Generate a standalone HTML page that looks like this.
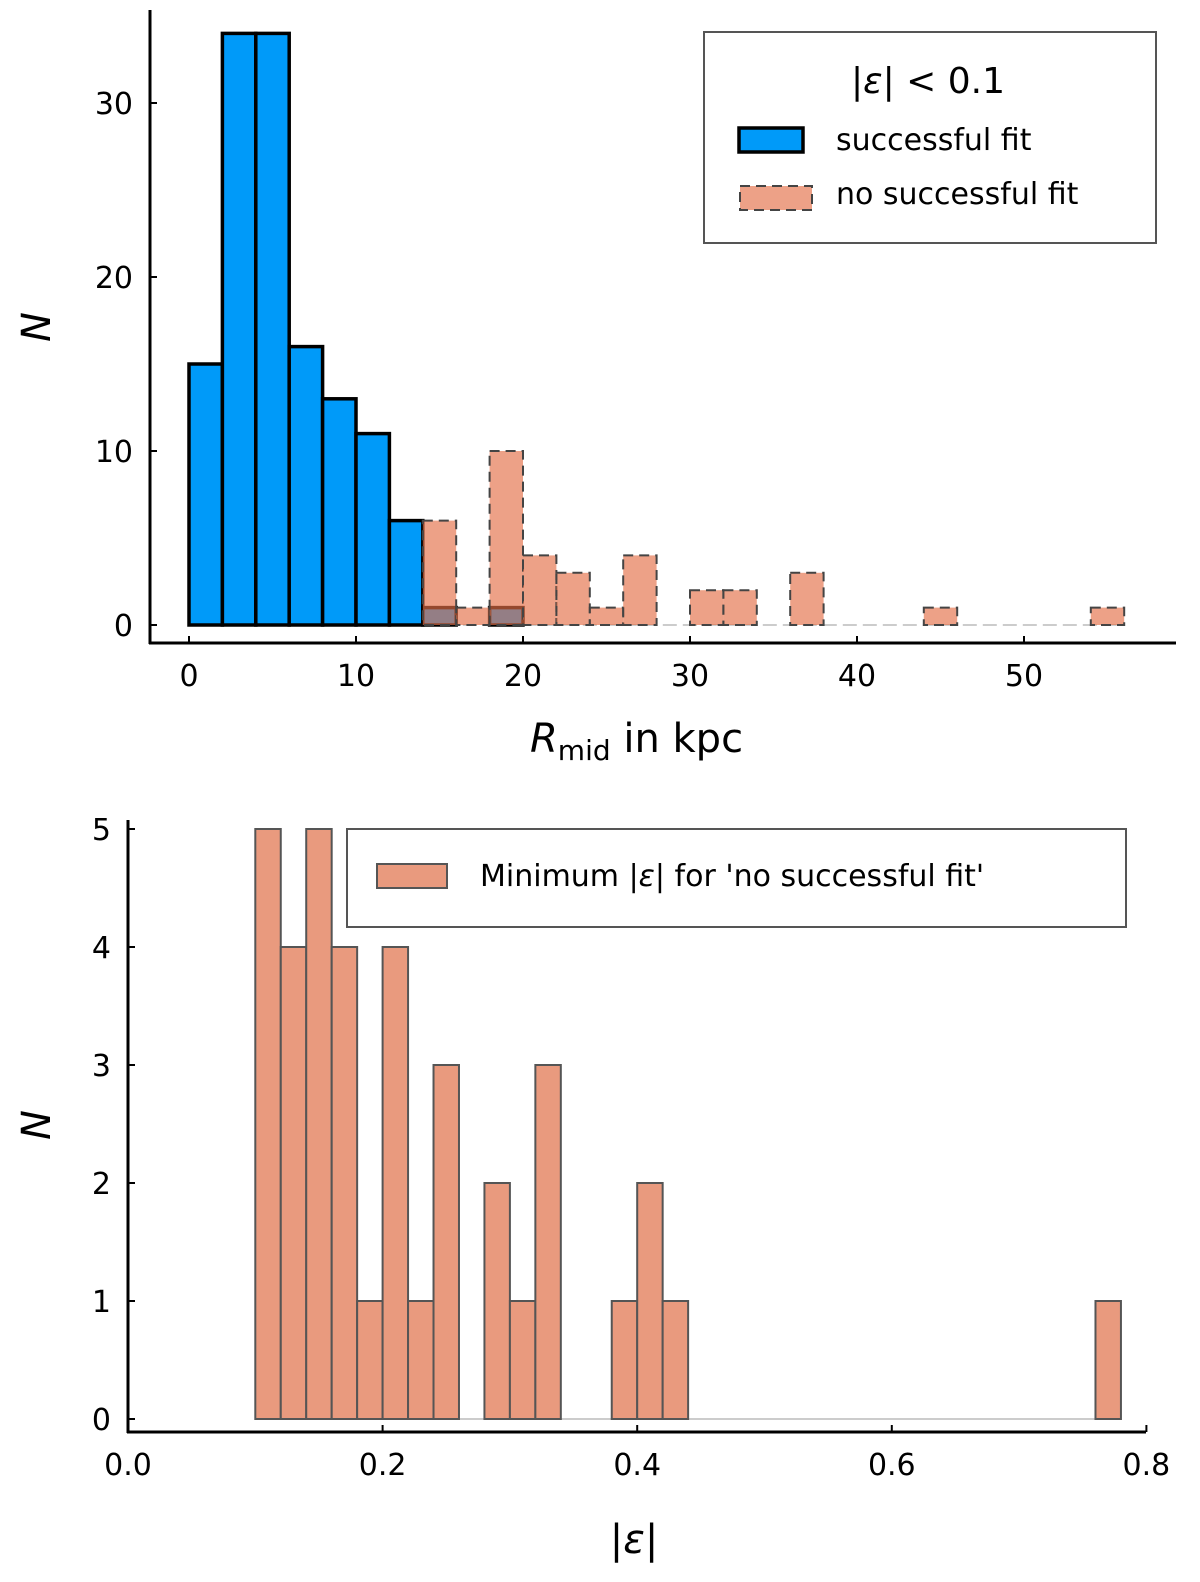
<!DOCTYPE html>
<html><head><meta charset="utf-8"><style>
body{margin:0;background:#fff;}
svg{display:block;font-family:"DejaVu Sans","Liberation Sans",sans-serif;}
</style></head><body>
<svg id="chart" width="1200" height="1582" viewBox="0 0 1200 1582"></svg>
<script>
// Top histogram data (bins of 2 kpc starting at 0)
const topBinStart = [0,2,4,6,8,10,12,14,16,18,20,22,24,26,28,30,32,34,36,38,40,42,44,46,48,50,52,54];
const topSuccess = [15,34,34,16,13,11,6,1,0,1];
const topNoSuccess = [0,0,0,0,0,0,0,6,1,10,4,3,1,4,0,2,2,0,3,0,0,0,1,0,0,0,0,1];
const topXTicks = [0,10,20,30,40,50];
const topYTicks = [0,10,20,30];
// Bottom histogram data (bins of 0.02 starting at 0.10)
const botBinStart = [0.10,0.12,0.14,0.16,0.18,0.20,0.22,0.24,0.26,0.28,0.30,0.32,0.34,0.36,0.38,0.40,0.42,0.44,0.46,0.48,0.50,0.52,0.54,0.56,0.58,0.60,0.62,0.64,0.66,0.68,0.70,0.72,0.74,0.76];
const botCounts = [5,4,5,4,1,4,1,3,0,2,1,3,0,0,1,2,1,0,0,0,0,0,0,0,0,0,0,0,0,0,0,0,0,1];
const botXTicks = [0.0,0.2,0.4,0.6,0.8];
const botYTicks = [0,1,2,3,4,5];

const NS="http://www.w3.org/2000/svg";
const svg=document.getElementById('chart');
function mk(tag,attrs,parent){const e=document.createElementNS(NS,tag);for(const k in attrs)e.setAttribute(k,attrs[k]);(parent||svg).appendChild(e);return e;}

const tx=v=>189+v*16.7, ty=v=>625-v*17.4;
const gTop=mk('g',{});


const bl=mk('line',{x1:tx(14),x2:tx(56),y1:ty(0),y2:ty(0),stroke:'#bbb','stroke-width':1.5,'stroke-dasharray':'14 6'},gTop);


topSuccess.forEach((c,i)=>{
  const x0=tx(topBinStart[i]),x1=tx(topBinStart[i]+2);
  const r=mk('rect',{x:x0,y:ty(c),width:x1-x0,height:ty(0)-ty(c),fill:'#009af9',stroke:'#000','stroke-width':3.5},gTop);
  
  
});
topNoSuccess.forEach((c,i)=>{
  if(c===0)return;
  const x0=tx(topBinStart[i]),x1=tx(topBinStart[i]+2);
  const r=mk('rect',{x:x0,y:ty(c),width:x1-x0,height:ty(0)-ty(c),fill:'rgba(227,111,71,0.65)',stroke:'#444','stroke-width':2,'stroke-dasharray':'10 6'},gTop);
  
  
});
mk('line',{x1:150,x2:150,y1:10,y2:644,stroke:'#000','stroke-width':3},gTop);
mk('line',{x1:149,x2:1176,y1:643,y2:643,stroke:'#000','stroke-width':3},gTop);
topXTicks.forEach(v=>{
  mk('line',{x1:tx(v),x2:tx(v),y1:643,y2:636,stroke:'#000','stroke-width':2},gTop);
  const t=mk('text',{x:tx(v),y:686,'text-anchor':'middle','font-size':30},gTop);t.textContent=v;
  
  
});
topYTicks.forEach(v=>{
  mk('line',{x1:150,x2:157,y1:ty(v),y2:ty(v),stroke:'#000','stroke-width':2},gTop);
  const t=mk('text',{x:133,y:ty(v)+11,'text-anchor':'end','font-size':30},gTop);t.textContent=v;
  
  
});
let t=mk('text',{x:530,y:752,'font-size':40},gTop);
t.innerHTML='<tspan font-style="italic">R</tspan><tspan font-size="28" dy="8">mid</tspan><tspan dy="-8"> in kpc</tspan>';


t=mk('text',{x:0,y:0,'font-size':40,'font-style':'italic','text-anchor':'middle',transform:'translate(50,327) rotate(-90)'},gTop);t.textContent='N';


const lg=mk('g',{},gTop);


mk('rect',{x:704,y:32,width:452,height:211,fill:'#fff',stroke:'#555','stroke-width':2},lg);
t=mk('text',{x:928,y:93,'font-size':36,'text-anchor':'middle'},lg);t.innerHTML='|<tspan font-style="italic">ε</tspan>| &lt; 0.1';


mk('rect',{x:739,y:128,width:64,height:24,fill:'#009af9',stroke:'#000','stroke-width':3.5},lg);
t=mk('text',{x:836,y:150,'font-size':30},lg);t.textContent='successful fit';


mk('rect',{x:740,y:186,width:72,height:24,fill:'rgba(227,111,71,0.65)',stroke:'#444','stroke-width':2,'stroke-dasharray':'10 6'},lg);
t=mk('text',{x:836,y:204,'font-size':30},lg);t.textContent='no successful fit';



const bx=v=>128+v*1273, by=v=>1419-v*118;
const gB=mk('g',{});


mk('line',{x1:bx(0.10),x2:bx(0.78),y1:by(0),y2:by(0),stroke:'#bbb','stroke-width':1.5},gB);
botCounts.forEach((c,i)=>{
  if(c===0)return;
  const x0=bx(botBinStart[i]),x1=bx(botBinStart[i]+0.02);
  const r=mk('rect',{x:x0,y:by(c),width:x1-x0,height:by(0)-by(c),fill:'#e99a7e',stroke:'#555','stroke-width':2},gB);
  
  
});
mk('line',{x1:128,x2:128,y1:820,y2:1433,stroke:'#000','stroke-width':3},gB);
mk('line',{x1:127,x2:1146,y1:1432,y2:1432,stroke:'#000','stroke-width':3},gB);
botXTicks.forEach(v=>{
  mk('line',{x1:bx(v),x2:bx(v),y1:1432,y2:1425,stroke:'#000','stroke-width':2},gB);
  const t=mk('text',{x:bx(v),y:1475,'text-anchor':'middle','font-size':30},gB);t.textContent=v.toFixed(1);
  
  
});
botYTicks.forEach(v=>{
  mk('line',{x1:128,x2:135,y1:by(v),y2:by(v),stroke:'#000','stroke-width':2},gB);
  const t=mk('text',{x:111,y:by(v)+11,'text-anchor':'end','font-size':30},gB);t.textContent=v;
  
  
});
t=mk('text',{x:634,y:1553,'font-size':40,'text-anchor':'middle'},gB);t.innerHTML='|<tspan font-style="italic">ε</tspan>|';


t=mk('text',{x:0,y:0,'font-size':40,'font-style':'italic','text-anchor':'middle',transform:'translate(50,1125) rotate(-90)'},gB);t.textContent='N';


const lg2=mk('g',{},gB);


mk('rect',{x:347,y:829,width:779,height:98,fill:'#fff',stroke:'#555','stroke-width':2},lg2);
mk('rect',{x:377,y:864,width:70,height:24,fill:'#e99a7e',stroke:'#555','stroke-width':2},lg2);
t=mk('text',{x:480,y:886,'font-size':30},lg2);t.innerHTML='Minimum |<tspan font-style="italic">ε</tspan>| for \'no successful fit\'';


</script>
</body></html>
